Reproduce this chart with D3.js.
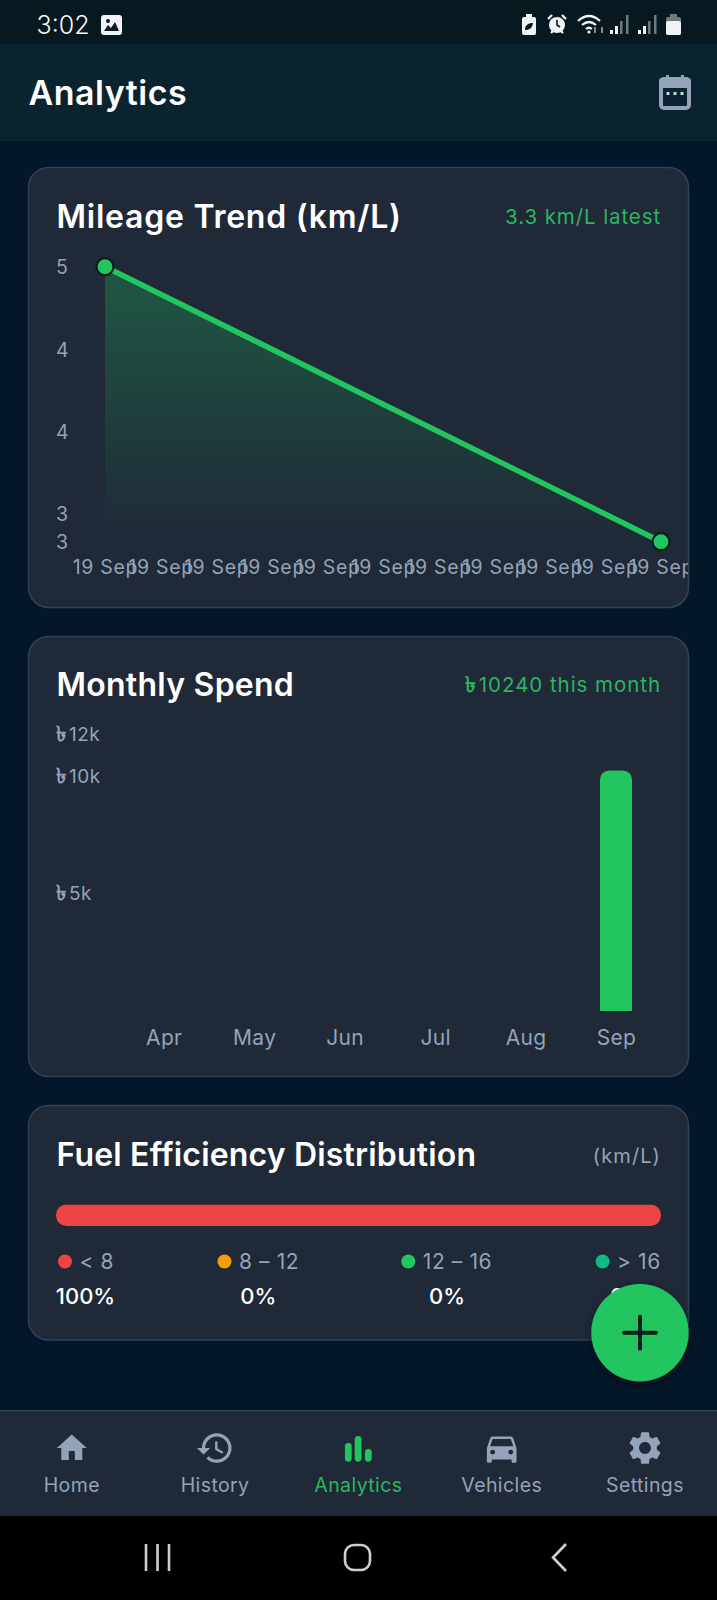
<!DOCTYPE html>
<html>
<head>
<meta charset="utf-8">
<script src="https://cdn.jsdelivr.net/npm/d3@7/dist/d3.min.js"></script>
<style>
html,body{margin:0;padding:0;background:#04172a;}
svg{display:block;}
text{font-family:Inter,"Noto Sans",sans-serif;}
</style>
</head>
<body>
<script>
const mileageDates = ["19 Sep","19 Sep","19 Sep","19 Sep","19 Sep","19 Sep","19 Sep","19 Sep","19 Sep","19 Sep","19 Sep"];
const mileageIndex = [0, 10];
const mileageValues = [5, 3.33];
const mileageTicks = [5, 4.5, 4, 3.5, 3.33];
const months = ["Apr","May","Jun","Jul","Aug","Sep"];
const spendValues = [0, 0, 0, 0, 0, 10240];
const spendTicks = [11776, 10000, 5000];
const distLabels = ["< 8","8 – 12","12 – 16","> 16"];
const distValues = [100, 0, 0, 0];
const distColors = ["#ef4444","#f59e0b","#22c55e","#10b981"];
const navLabels = ["Home","History","Analytics","Vehicles","Settings"];

const GREEN = "#22c55e", MUTED = "#94a3b8", CARD = "#1f2937", EDGE = "#334155";
const svg = d3.select("body").append("svg").attr("width",717).attr("height",1600).attr("viewBox","0 0 717 1600");
const defs = svg.append("defs");

function txt(p,x,y,s,size,fill,opt={}){
  const t = p.append("text").attr("x",x).attr("y",y).text(s)
    .attr("font-size",size).attr("fill",fill)
    .attr("text-anchor",opt.anchor||"start").attr("font-weight",opt.weight||400);
  if(opt.ls) t.attr("letter-spacing",opt.ls);
  return t;
}
// the taka sign comes from a fallback font with a small glyph: enlarge it to the reference's size
function bigTaka(sel,size,gap){
  sel.each(function(){
    const t = d3.select(this), s = t.text();
    t.text(null);
    t.append("tspan").attr("font-size",size).attr("font-weight",600).text(s.slice(0,1));
    t.append("tspan").attr("dx",gap).text(s.slice(1));
  });
}

/* page frame */
svg.append("rect").attr("width",717).attr("height",1600).attr("fill","#04172a");
svg.append("rect").attr("width",717).attr("height",44).attr("fill","#07181f");
svg.append("rect").attr("y",44).attr("width",717).attr("height",97).attr("fill","#09242e");

/* status bar */
const st = svg.append("g");
txt(st,36.5,33.5,"3:02",25,"#f4f6f7",{weight:300});
const pic = st.append("g").attr("transform","translate(101,15)");
pic.append("rect").attr("width",21).attr("height",20).attr("rx",3).attr("fill","#f1f3f4");
pic.append("path").attr("d","M3 16l4-6 3 3 4-6 4 9z").attr("fill","#0b1c22");
pic.append("circle").attr("cx",7).attr("cy",6).attr("r",2).attr("fill","#0b1c22");
st.append("rect").attr("x",522).attr("y",17).attr("width",14).attr("height",18).attr("rx",2).attr("fill","#f1f3f4");
st.append("rect").attr("x",526).attr("y",14).attr("width",6).attr("height",4).attr("fill","#f1f3f4");
st.append("path").attr("d","M525 30c0-5 3-7 8-7-1 5-3 7-8 7z").attr("fill","#07181f");
st.append("circle").attr("cx",557).attr("cy",25).attr("r",8).attr("fill","#f1f3f4");
st.append("path").attr("d","M557 20v5l3 2").attr("fill","none").attr("stroke","#07181f").attr("stroke-width",1.6);
st.append("path").attr("d","M548 19l4-4M566 19l-4-4M551 33l2-2M563 33l-2-2").attr("stroke","#f1f3f4").attr("stroke-width",2.4).attr("fill","none");
st.append("path").attr("d","M578 21q11-10 22 0M582 25q7-6 14 0M586 29q3-2.5 6 0").attr("fill","none").attr("stroke","#f1f3f4").attr("stroke-width",2.2);
st.append("circle").attr("cx",589).attr("cy",32).attr("r",1.6).attr("fill","#f1f3f4");
st.append("path").attr("d","M595 27v6M602 33v-6").attr("stroke","#7b8a90").attr("stroke-width",2).attr("fill","none");
[610,638].forEach(x=>{
  st.append("rect").attr("x",x).attr("y",30).attr("width",3).attr("height",4).attr("fill","#f1f3f4");
  st.append("rect").attr("x",x+5).attr("y",26).attr("width",3).attr("height",8).attr("fill","#f1f3f4");
  st.append("rect").attr("x",x+10).attr("y",21).attr("width",2.5).attr("height",13).attr("fill","#6d7b80");
  st.append("rect").attr("x",x+16).attr("y",15).attr("width",2.5).attr("height",19).attr("fill","#6d7b80");
});
st.append("rect").attr("x",666).attr("y",17).attr("width",15).attr("height",18).attr("rx",2).attr("fill","#6d7b80");
st.append("rect").attr("x",666).attr("y",21).attr("width",15).attr("height",14).attr("rx",2).attr("fill","#f1f3f4");
st.append("rect").attr("x",670).attr("y",14).attr("width",7).attr("height",3).attr("fill","#6d7b80");

/* header */
txt(svg,28.5,105,"Analytics",34,"#ffffff",{weight:600,ls:.5});
const cal = svg.append("g");
cal.append("rect").attr("x",661).attr("y",79).attr("width",28).attr("height",29).attr("rx",3).attr("fill","none").attr("stroke",MUTED).attr("stroke-width",4);
cal.append("rect").attr("x",659).attr("y",78).attr("width",32).attr("height",10).attr("rx",3).attr("fill",MUTED);
cal.append("rect").attr("x",666).attr("y",75).attr("width",3).attr("height",5).attr("fill",MUTED);
cal.append("rect").attr("x",681).attr("y",75).attr("width",3).attr("height",5).attr("fill",MUTED);
[668,675,682].forEach(x=>cal.append("rect").attr("x",x-1.5).attr("y",92).attr("width",3).attr("height",3).attr("fill","#cbd5e1"));

/* cards */
function card(top,bottom){
  return svg.append("rect").attr("x",28.5).attr("y",top).attr("width",660).attr("height",bottom-top)
   .attr("rx",20).attr("fill",CARD).attr("stroke",EDGE).attr("stroke-width",1.5);
}
card(167.5,607.5); card(636.5,1076.5); card(1105.5,1340);

/* Mileage */
txt(svg,56.5,228,"Mileage Trend (km/L)",32,"#ffffff",{weight:600,ls:.75});
txt(svg,661,224,"3.3 km/L latest",20.5,"#2bb560",{anchor:"end",ls:.9});
const grad = defs.append("linearGradient").attr("id","area").attr("x1",0).attr("x2",0).attr("y1",0).attr("y2",1);
grad.append("stop").attr("offset","0%").attr("stop-color",GREEN).attr("stop-opacity",.3);
grad.append("stop").attr("offset","100%").attr("stop-color",GREEN).attr("stop-opacity",0);
defs.append("clipPath").attr("id","c1").append("rect").attr("x",28).attr("y",167).attr("width",660).attr("height",440);

const mx = d3.scalePoint().domain(d3.range(mileageDates.length)).range([105,661]);
const my = d3.scaleLinear().domain([d3.min(mileageValues),d3.max(mileageValues)]).range([541.7,266.7]);
const mData = mileageIndex.map((k,i)=>({k,v:mileageValues[i]}));
svg.append("path").datum(mData).attr("fill","url(#area)")
  .attr("d",d3.area().x(d=>mx(d.k)).y0(my.range()[0]).y1(d=>my(d.v)));
svg.append("path").datum(mData).attr("fill","none").attr("stroke",GREEN).attr("stroke-width",5.5)
  .attr("d",d3.line().x(d=>mx(d.k)).y(d=>my(d.v)));
svg.selectAll(".dot").data(mData).join("circle").attr("class","dot")
  .attr("cx",d=>mx(d.k)).attr("cy",d=>my(d.v)).attr("r",8.5)
  .attr("fill",GREEN).attr("stroke","#0a1c22").attr("stroke-width",2.2);
const yA1 = svg.append("g").attr("transform","translate(56,1)")
  .call(d3.axisLeft(my).tickValues(mileageTicks).tickSize(0).tickFormat(d=>Math.floor(d)));
yA1.select(".domain").remove();
yA1.selectAll("text").attr("x",0).attr("text-anchor","start").attr("font-size",19.5).attr("fill",MUTED).attr("font-family",null);
const xA1 = svg.append("g").attr("clip-path","url(#c1)").append("g").attr("transform","translate(0,553)")
  .call(d3.axisBottom(mx).tickSize(0).tickFormat(i=>mileageDates[i]));
xA1.select(".domain").remove();
xA1.selectAll("text").attr("dy",0).attr("y",21).attr("font-size",19.5).attr("letter-spacing",.7).attr("fill",MUTED).attr("font-family",null);

/* Monthly spend */
txt(svg,56.5,696,"Monthly Spend",32,"#ffffff",{weight:600,ls:.25});
const last = spendValues[spendValues.length-1];
const spendLabel = txt(svg,661,691.5,"৳"+last+" this month",20.5,"#2bb560",{anchor:"end",ls:.95});
bigTaka(spendLabel,22,1.5);
const sx = d3.scalePoint().domain(months).range([163.7,616]);
const sy = d3.scaleLinear().domain([0,spendTicks[0]]).range([1011,734.3]);
const bw = 32, br = 10;
svg.selectAll(".bar").data(months.map((m,i)=>({m,v:spendValues[i]})).filter(d=>d.v>0)).join("path").attr("class","bar")
  .attr("fill",GREEN)
  .attr("d",d=>{const x=sx(d.m)-bw/2,y=sy(d.v),b=sy(0);
    return `M${x},${b}V${y+br}Q${x},${y} ${x+br},${y}H${x+bw-br}Q${x+bw},${y} ${x+bw},${y+br}V${b}Z`;});
const yA2 = svg.append("g").attr("transform","translate(56,0)")
  .call(d3.axisLeft(sy).tickValues(spendTicks).tickSize(0).tickFormat(d=>"৳"+Math.round(d/1000)+"k"));
yA2.select(".domain").remove();
const yT2 = yA2.selectAll("text").attr("x",0).attr("text-anchor","start").attr("font-size",19).attr("letter-spacing",.5).attr("fill",MUTED).attr("font-family",null);
bigTaka(yT2,21,2.5);
const xA2 = svg.append("g").attr("transform","translate(0,1011)")
  .call(d3.axisBottom(sx).tickSize(0));
xA2.select(".domain").remove();
xA2.selectAll("text").attr("dy",0).attr("y",33.5).attr("font-size",21).attr("letter-spacing",.3).attr("fill",MUTED).attr("font-family",null);

/* Distribution */
txt(svg,56.5,1165.5,"Fuel Efficiency Distribution",32,"#ffffff",{weight:600,ls:.18});
txt(svg,661,1162.5,"(km/L)",20,MUTED,{anchor:"end",ls:1.1});
const dx = d3.scaleLinear().domain([0,d3.sum(distValues)]).range([56,661]);
defs.append("clipPath").attr("id","c3").append("rect").attr("x",56).attr("y",1204.5).attr("width",605).attr("height",21.5).attr("rx",10.5);
let acc = 0;
const distG = svg.append("g").attr("clip-path","url(#c3)");
distValues.forEach((v,i)=>{
  distG.append("rect").attr("x",dx(acc)).attr("y",1204.5).attr("width",dx(acc+v)-dx(acc)).attr("height",21.5).attr("fill",distColors[i]);
  acc += v;
});
const legendDotX = [65,224.5,408.3,602.6];
const legendPctX = [85.5,258.3,447,628];
distLabels.forEach((s,i)=>{
  svg.append("circle").attr("cx",legendDotX[i]).attr("cy",1261.5).attr("r",7).attr("fill",distColors[i]);
  txt(svg,legendDotX[i]+14.5,1268.8,s,21,MUTED,{ls:.6});
  txt(svg,legendPctX[i],1303.5,distValues[i]+"%",22,"#ffffff",{anchor:"middle",weight:500});
});

/* FAB */
const sh = defs.append("filter").attr("id","sh").attr("x","-30%").attr("y","-30%").attr("width","160%").attr("height","170%");
sh.append("feDropShadow").attr("dx",0).attr("dy",5).attr("stdDeviation",6).attr("flood-color","#000").attr("flood-opacity",.35);
svg.append("circle").attr("cx",640).attr("cy",1332.7).attr("r",48.7).attr("fill",GREEN).attr("filter","url(#sh)");
svg.append("path").attr("d","M624 1332.7H656M640 1316.7V1348.7").attr("stroke","#0a1c22").attr("stroke-width",4).attr("stroke-linecap","round");

/* Bottom nav */
svg.append("rect").attr("y",1410).attr("width",717).attr("height",106).attr("fill",CARD);
svg.append("rect").attr("y",1410).attr("width",717).attr("height",1.5).attr("fill",EDGE);
svg.append("rect").attr("y",1516).attr("width",717).attr("height",84).attr("fill","#000");
const navX = d3.scalePoint().domain(navLabels).range([71.8,645]);
const icons = {
 Home:"M10 20v-6h4v6h5v-8h3L12 3 2 12h3v8z",
 History:"M13 3c-4.97 0-9 4.03-9 9H1l3.89 3.89.07.14L9 12H6c0-3.87 3.13-7 7-7s7 3.13 7 7-3.13 7-7 7c-1.93 0-3.68-.79-4.94-2.06l-1.42 1.42C8.27 19.99 10.51 21 13 21c4.97 0 9-4.03 9-9s-4.03-9-9-9zm-1 5v5l4.28 2.54.72-1.21-3.5-2.08V8H12z",
 Vehicles:"M18.92 6.01C18.72 5.42 18.16 5 17.5 5h-11c-.66 0-1.21.42-1.42 1.01L3 12v8c0 .55.45 1 1 1h1c.55 0 1-.45 1-1v-1h12v1c0 .55.45 1 1 1h1c.55 0 1-.45 1-1v-8l-2.08-5.99zM6.5 16c-.83 0-1.5-.67-1.5-1.5S5.67 13 6.5 13s1.5.67 1.5 1.5S7.33 16 6.5 16zm11 0c-.83 0-1.5-.67-1.5-1.5s.67-1.5 1.5-1.5 1.5.67 1.5 1.5-.67 1.5-1.5 1.5zM5 11l1.5-4.5h11L19 11H5z",
 Settings:"M19.14 12.94c.04-.3.06-.61.06-.94 0-.32-.02-.64-.07-.94l2.03-1.58c.18-.14.23-.41.12-.61l-1.92-3.32c-.12-.22-.37-.29-.59-.22l-2.39.96c-.5-.38-1.03-.7-1.62-.94l-.36-2.54c-.04-.24-.24-.41-.48-.41h-3.84c-.24 0-.43.17-.47.41l-.36 2.54c-.59.24-1.13.57-1.62.94l-2.39-.96c-.22-.08-.47 0-.59.22L2.74 8.87c-.12.21-.08.47.12.61l2.03 1.58c-.05.3-.09.63-.09.94s.02.64.07.94l-2.03 1.58c-.18.14-.23.41-.12.61l1.92 3.32c.12.22.37.29.59.22l2.39-.96c.5.38 1.03.7 1.62.94l.36 2.54c.05.24.24.41.48.41h3.84c.24 0 .44-.17.47-.41l.36-2.54c.59-.24 1.13-.56 1.62-.94l2.39.96c.22.08.47 0 .59-.22l1.92-3.32c.12-.22.07-.47-.12-.61l-2.01-1.58zM12 15.6c-1.98 0-3.6-1.62-3.6-3.6s1.62-3.6 3.6-3.6 3.6 1.62 3.6 3.6-1.62 3.6-3.6 3.6z"
};
navLabels.forEach(n=>{
  const on = n==="Analytics", c = on?GREEN:MUTED, x = navX(n);
  if(icons[n]){
    const s = n==="Home"?1.5:1.65;
    svg.append("path").attr("d",icons[n]).attr("fill",c).attr("transform",`translate(${x-12*s},${1448-12*s}) scale(${s})`);
  }else{
    [[-13.5,1443],[-3.7,1436],[6.5,1449]].forEach(([o,y])=>{
      svg.append("rect").attr("x",x+o).attr("y",y).attr("width",6.8).attr("height",1461.7-y).attr("rx",3.4).attr("fill",c);
    });
  }
  txt(svg,x,1492,n,19.5,on?"#2bb560":MUTED,{anchor:"middle",ls:.4});
});

/* Android nav */
const an = svg.append("g").attr("fill","none").attr("stroke","#cfcfcf").attr("stroke-width",2.6);
[146,157.5,169].forEach(x=>an.append("path").attr("d",`M${x} 1544V1571`));
an.append("rect").attr("x",345).attr("y",1545).attr("width",25).attr("height",25).attr("rx",9);
an.append("path").attr("d","M566 1544L553 1557.5L566 1571");
</script>
</body>
</html>
